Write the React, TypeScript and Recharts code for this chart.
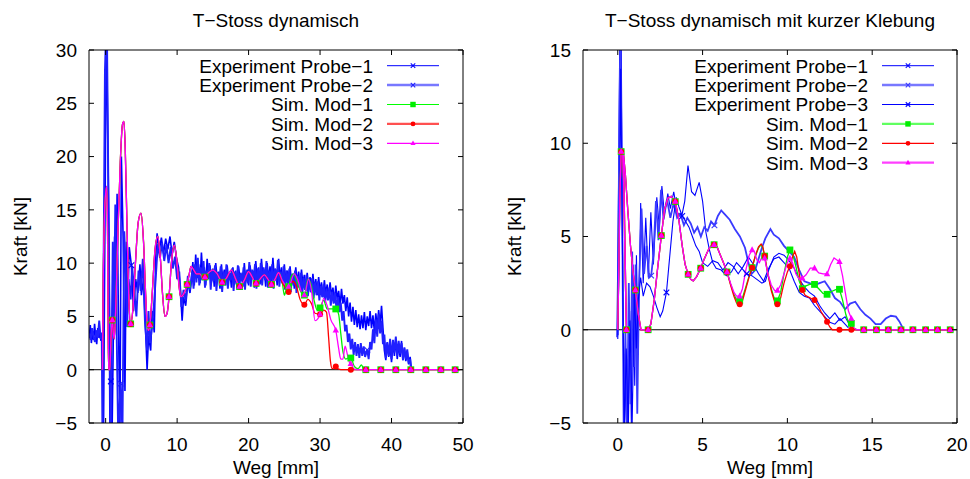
import { LineChart, Line, XAxis, YAxis, ReferenceLine } from 'recharts';

type Pt = [number, number];
type Shape = 'cross' | 'square' | 'circle' | 'triangle';

const FONT = '"Liberation Sans", Arial, Helvetica, sans-serif';
const FS = 19;

// ---------- left panel: T-Stoss dynamisch ----------
const leftXTicks = [0, 10, 20, 30, 40, 50];
const leftYTicks = [-5, 0, 5, 10, 15, 20, 25, 30];

const leftProbe1: Pt[] = [
  [-2.3, 3.0], [-2.15, 4.2], [-2.0, 2.5], [-1.85, 3.6], [-1.7, 2.8], [-1.55, 4.3], [-1.4, 3.1], [-1.25, 2.4],
  [-1.1, 3.9], [-0.95, 3.0], [-0.8, 3.5], [-0.65, 2.7], [-0.5, 3.4], [-0.42, 3.0], [-0.3, -6], [0.1, 33],
  [0.45, 13], [0.6, -6], [0.72, -1.1], [0.9, -6], [1.25, 12.5], [1.4, 5], [1.6, 16.5], [1.8, 4], [2.0, -6],
  [2.2, 20], [2.45, 12.2], [2.7, -2], [2.9, 12], [3.1, 6], [3.3, 11.5], [3.6, 9.8], [3.9, 5.5], [4.2, 8.5],
  [4.5, 7.2], [4.8, 9.9], [5.0, 7.0], [5.3, 8.5], [5.6, 3.5], [5.8, 0.0], [6.0, 3.2], [6.3, 1.8], [6.5, 5.5],
  [6.8, 3.5], [7.0, 10.5], [7.2, 12.8], [7.5, 11.2], [7.8, 12.4], [8.1, 10.9], [8.4, 12.3], [8.7, 11.3],
  [9.0, 12.5], [9.3, 10.8], [9.6, 12.0], [9.9, 10.5], [10.2, 9.6], [10.5, 7.0], [10.7, 4.6], [10.9, 6.8],
  [11.2, 6.0], [11.5, 8.2], [11.8, 7.2],
  [12.0, 8.4], [12.2, 10.1], [12.4, 7.9], [12.6, 10.8], [12.8, 8.6], [13.0, 9.9], [13.2, 8.1], [13.4, 11.0],
  [13.6, 8.8], [13.8, 9.6], [14.0, 7.9], [14.2, 10.4], [14.4, 8.5], [14.6, 9.8], [14.8, 8.2], [15.0, 9.5],
  [15.2, 7.8], [15.4, 10.0], [15.6, 8.6], [15.8, 9.2], [16.0, 7.6], [16.2, 9.9], [16.4, 8.3], [16.6, 9.4],
  [16.8, 7.9], [17.0, 9.8], [17.2, 8.4], [17.4, 9.1], [17.6, 7.7], [17.8, 9.6], [18.0, 8.2], [18.2, 9.3],
  [18.4, 7.5], [18.6, 9.7], [18.8, 8.4], [19.0, 9.0], [19.2, 7.8], [19.4, 10.0], [19.6, 8.3], [19.8, 9.4],
  [20.0, 7.9], [20.2, 9.8], [20.4, 8.6], [20.6, 9.2], [20.8, 7.7], [21.0, 10.2], [21.2, 8.5], [21.4, 9.6],
  [21.6, 8.0], [21.8, 10.4], [22.0, 8.7], [22.2, 9.3], [22.4, 7.8], [22.6, 10.0], [22.8, 8.4], [23.0, 9.7],
  [23.2, 8.1], [23.4, 10.5], [23.6, 8.6], [23.8, 9.4], [24.0, 7.9], [24.2, 10.4], [24.4, 8.5], [24.6, 9.6],
  [24.8, 8.0], [25.0, 9.9], [25.2, 8.3], [25.4, 9.3], [25.6, 7.8], [25.8, 9.7], [26.0, 8.2], [26.2, 9.0],
  [26.4, 7.6], [26.6, 9.6], [26.8, 8.1], [27.0, 9.2], [27.2, 7.5], [27.4, 9.4], [27.6, 8.0], [27.8, 8.9],
  [28.0, 7.4], [28.2, 9.1], [28.4, 7.8], [28.6, 8.7], [28.8, 7.2], [29.0, 9.0], [29.2, 7.5], [29.4, 8.5],
  [29.6, 7.0], [29.8, 8.7], [30.0, 7.3], [30.2, 8.2], [30.4, 6.8], [30.6, 8.4], [30.8, 7.1], [31.0, 8.0],
  [31.2, 6.6], [31.4, 8.2], [31.6, 6.9], [31.8, 7.7], [32.0, 6.3], [32.2, 7.9], [32.4, 6.6], [32.6, 7.4],
  [32.8, 6.0], [33.0, 7.6], [33.2, 6.2], [33.4, 7.0], [33.6, 5.5], [33.8, 6.8], [34.0, 5.0], [34.2, 6.3],
  [34.4, 4.5], [34.6, 5.9], [34.8, 4.2], [35.0, 5.6], [35.2, 4.0], [35.4, 5.2], [35.6, 3.8], [35.8, 5.1],
  [36.0, 3.9], [36.2, 5.4], [36.4, 3.7], [36.6, 5.0], [36.8, 4.1], [37.0, 5.5], [37.2, 3.9], [37.4, 5.1],
  [37.6, 3.6], [37.8, 5.3], [38.0, 4.0], [38.2, 5.6], [38.4, 4.2], [38.6, 6.0], [38.8, 3.9], [39.0, 1.8],
  [39.2, 0.9], [39.4, 2.5], [39.6, 1.2], [39.8, 2.2], [40.0, 0.7], [40.2, 2.6], [40.4, 1.3], [40.6, 2.9],
  [40.8, 1.0], [41.0, 2.4], [41.2, 1.2], [41.4, 2.7], [41.6, 0.9], [41.8, 2.0], [42.0, 0.8], [42.2, 1.7],
  [42.4, 0.5], [42.6, 1.2], [42.8, 0.0],
];
const leftProbe1Marks = [0.72, 3.6];

const leftProbe2: Pt[] = [
  [-2.3, 3.4], [-2.1, 2.8], [-1.9, 3.9], [-1.7, 3.1], [-1.5, 2.6], [-1.3, 3.7], [-1.1, 3.0], [-0.9, 4.6],
  [-0.7, 2.9], [-0.55, 3.5], [-0.45, -6], [-0.1, 28], [0.15, 34], [0.5, 8], [0.7, -6], [1.0, 12], [1.15, 4],
  [1.35, 15.5], [1.55, 3], [1.75, -6], [2.1, -1.3], [2.35, -6], [2.6, 13], [2.8, 9.7], [3.0, 4.0], [3.2, 8.5],
  [3.5, 6.6], [3.7, 9.7], [4.0, 7.5], [4.3, 5.0], [4.6, 9.3], [4.9, 7.4], [5.2, 10.4], [5.5, 4.5], [5.8, 1.8],
  [6.0, 5.5], [6.2, 2.5], [6.5, 4.0], [6.8, 6.5], [7.0, 8.5], [7.3, 11.8], [7.6, 10.5], [7.9, 11.9],
  [8.2, 10.2], [8.5, 11.7], [8.8, 10.0], [9.1, 11.5], [9.4, 9.5], [9.7, 10.6], [10.0, 8.5], [10.3, 9.2],
  [10.6, 5.9], [10.9, 7.5], [11.2, 6.5], [11.5, 8.8], [11.8, 7.5],
  [12.1, 9.2], [12.3, 7.6], [12.5, 9.9], [12.7, 8.2], [12.9, 10.5], [13.1, 7.9], [13.3, 9.6], [13.5, 8.4],
  [13.7, 10.2], [13.9, 7.7], [14.1, 9.3], [14.3, 8.6], [14.5, 10.0], [14.7, 7.5], [14.9, 9.4], [15.1, 8.3],
  [15.3, 9.8], [15.5, 7.4], [15.7, 9.1], [15.9, 8.5], [16.1, 9.7], [16.3, 7.3], [16.5, 9.2], [16.7, 8.1],
  [16.9, 9.9], [17.1, 7.6], [17.3, 9.0], [17.5, 8.4], [17.7, 9.5], [17.9, 7.4], [18.1, 9.2], [18.3, 8.0],
  [18.5, 9.8], [18.7, 7.6], [18.9, 9.1], [19.1, 8.3], [19.3, 9.6], [19.5, 7.5], [19.7, 9.3], [19.9, 8.1],
  [20.1, 10.1], [20.3, 7.8], [20.5, 9.4], [20.7, 8.5], [20.9, 9.9], [21.1, 7.6], [21.3, 9.5], [21.5, 8.2],
  [21.7, 10.0], [21.9, 7.9], [22.1, 9.6], [22.3, 8.4], [22.5, 10.2], [22.7, 7.7], [22.9, 9.3], [23.1, 8.2],
  [23.3, 9.9], [23.5, 7.6], [23.7, 9.5], [23.9, 8.3], [24.1, 10.3], [24.3, 7.8], [24.5, 9.2], [24.7, 8.1],
  [24.9, 9.7], [25.1, 7.5], [25.3, 9.3], [25.5, 8.0], [25.7, 9.5], [25.9, 7.3], [26.1, 9.0], [26.3, 7.9],
  [26.5, 9.3], [26.7, 7.2], [26.9, 8.8], [27.1, 7.7], [27.3, 9.1], [27.5, 7.0], [27.7, 8.6], [27.9, 7.5],
  [28.1, 8.9], [28.3, 6.9], [28.5, 8.4], [28.7, 7.3], [28.9, 8.6], [29.1, 6.7], [29.3, 8.2], [29.5, 7.0],
  [29.7, 8.3], [29.9, 6.5], [30.1, 7.9], [30.3, 6.8], [30.5, 8.0], [30.7, 6.3], [30.9, 7.6], [31.1, 6.5],
  [31.3, 7.7], [31.5, 6.0], [31.7, 7.3], [31.9, 6.2], [32.1, 7.2], [32.3, 5.6], [32.5, 6.8], [32.7, 5.4],
  [32.9, 6.3], [33.1, 4.6], [33.3, 5.5], [33.5, 3.6], [33.7, 4.2], [33.9, 2.6], [34.1, 3.4], [34.3, 1.9],
  [34.5, 2.9], [34.7, 1.4], [34.9, 2.6], [35.1, 1.3], [35.3, 2.4], [35.5, 1.1], [35.7, 2.5], [35.9, 1.3],
  [36.1, 2.2], [36.3, 1.2], [36.6, 1.85], [36.8, 1.0], [37.0, 2.6], [37.2, 1.9], [37.4, 3.8], [37.6, 2.5],
  [37.8, 4.7], [38.0, 3.1], [38.2, 5.2], [38.4, 3.4], [38.6, 4.6], [38.8, 2.4], [39.0, 3.3], [39.2, 1.1],
  [39.4, 2.6], [39.6, 1.3], [39.8, 2.9], [40.0, 1.0], [40.2, 2.8], [40.4, 1.6], [40.6, 3.1], [40.8, 1.3],
  [41.0, 2.7], [41.2, 1.5], [41.4, 2.5], [41.6, 0.9], [41.8, 2.1], [42.0, 1.0], [42.2, 1.9], [42.4, 0.6],
  [42.6, 1.0], [42.7, 0],
];
const leftProbe2Marks = [2.1, 36.6];

const leftSimShared: Pt[] = [
  [-0.45, 0], [-0.33, 8.7], [-0.12, 15.2], [0.15, 17.2], [0.27, 12.5], [0.36, 3], [0.42, 0], [0.58, 0],
  [0.76, 3.2], [0.93, 4.66], [1.08, 3.4], [1.2, 2.9], [1.4, 5.5], [1.7, 12.5], [2.05, 19.5], [2.35, 23],
  [2.56, 23.3], [2.75, 20.5], [3.0, 13], [3.25, 6.5], [3.5, 4.3], [3.8, 5.6], [4.15, 9.8], [4.55, 13.8],
  [4.94, 14.7], [5.3, 12], [5.6, 7], [5.85, 4.0], [6.0, 3.7], [6.2, 4.2], [6.5, 7], [6.9, 11.2], [7.28, 12.5],
  [7.65, 10.5], [7.95, 7.2], [8.3, 5.0], [8.6, 5.3], [8.87, 6.85], [9.2, 10], [9.6, 11.7], [9.95, 10.3],
  [10.25, 8], [10.5, 6.85], [10.9, 7.1], [11.4, 8.0], [11.7, 9.0], [11.95, 9.7], [12.3, 9.4], [12.7, 9.0],
  [13.2, 9.0], [13.6, 8.6], [13.9, 8.7], [14.4, 9.1], [15.0, 9.35], [15.6, 9.0], [16.3, 8.2], [16.9, 8.6],
  [17.6, 9.35], [18.2, 8.5], [18.75, 7.8], [19.4, 8.4], [20.0, 9.2], [20.5, 8.7], [21.05, 8.1], [21.6, 8.5],
  [22.2, 8.9], [22.7, 8.5], [23.2, 8.0], [23.7, 8.5], [24.2, 9.1],
];
const leftZeroTail: Pt[] = [[36.4, 0], [38.5, 0], [40.6, 0], [42.7, 0], [44.8, 0], [46.9, 0], [48.9, 0], [49.6, 0]];
const leftMod1Tail: Pt[] = [
  [24.7, 8.3], [25.0, 7.0], [25.3, 7.6], [25.6, 7.8], [26.0, 8.8], [26.3, 9.0], [26.9, 8.0], [27.4, 7.2],
  [27.8, 7.0], [28.3, 8.5], [28.7, 8.1], [29.2, 6.4], [29.6, 5.6], [30.0, 5.8], [30.5, 6.5], [31.0, 5.7],
  [31.6, 5.7], [32.2, 5.7], [32.6, 5.2], [32.9, 3.4], [33.2, 1.7], [33.6, 1.0], [34.0, 1.1], [34.3, 1.1],
  [34.8, 0.3], [35.3, 0.1], [35.8, 0.45], [36.1, 0.05],
];
const leftMod2Tail: Pt[] = [
  [24.7, 8.2], [25.2, 7.6], [25.6, 7.3], [26.2, 8.3], [26.7, 7.8], [27.2, 6.6], [27.8, 6.1], [28.3, 6.6],
  [28.8, 6.2], [29.3, 5.3], [30.0, 5.2], [30.5, 5.6], [30.9, 5.4], [31.2, 3.0], [31.45, 0.8], [31.7, 0.1],
  [31.95, 0.2], [32.2, 0.3], [32.6, 0.05], [33.2, 0], [34.3, 0],
];
const leftMod3Tail: Pt[] = [
  [24.7, 8.4], [25.2, 7.9], [25.6, 7.8], [26.4, 9.0], [26.9, 8.4], [27.4, 7.3], [27.8, 7.0], [28.4, 8.5],
  [28.8, 7.4], [29.3, 4.6], [29.7, 4.8], [30.0, 5.2], [30.5, 6.7], [31.0, 6.0], [31.5, 4.7], [32.2, 3.7],
  [32.6, 2.0], [32.9, 1.0], [33.2, 1.0], [33.5, 2.2], [33.8, 1.5], [34.1, 0.7], [34.3, 0.55], [34.8, 0.05],
  [35.5, 0],
];
const leftSimMarks = [0.93, 3.5, 6.2, 8.87, 11.4, 13.9, 16.3, 18.75, 21.05, 23.2, 25.6, 27.8, 30.0, 32.2, 34.3,
  36.4, 38.5, 40.6, 42.7, 44.8, 46.9, 48.9];

// ---------- right panel: T-Stoss dynamisch mit kurzer Klebung ----------
const rightXTicks = [0, 5, 10, 15, 20];
const rightYTicks = [-5, 0, 5, 10, 15];

const rightProbe1: Pt[] = [
  [-0.05, -0.4], [0.05, 8], [0.12, 16], [0.2, 16], [0.3, 2], [0.4, -5.5], [0.5, -2], [0.6, -5.5], [0.7, 1],
  [0.8, -5], [0.9, 3.5], [1.0, -3], [1.1, 4], [1.2, -1], [1.35, 6.8], [1.5, 2.5], [1.65, 6.0], [1.8, 2.8],
  [1.95, 6.3], [2.1, 3.5], [2.3, 7.1], [2.45, 5.5], [2.6, 7.7], [2.75, 6.2], [2.95, 7.3], [3.1, 6.5],
  [3.3, 7.4], [3.5, 6.3], [3.75, 6.0], [3.95, 6.9], [4.14, 8.8], [4.35, 7.4], [4.55, 7.2], [4.8, 7.9],
  [5.0, 6.9], [5.2, 5.2], [5.4, 4.3], [5.6, 3.6], [5.8, 3.3], [6.1, 3.2], [6.4, 2.9], [6.7, 3.1], [7.0, 3.6],
  [7.3, 3.3], [7.6, 3.0], [7.9, 2.9], [8.2, 2.7], [8.5, 2.5], [8.7, 2.6], [8.9, 3.2], [9.2, 3.9], [9.5, 4.1],
  [9.8, 4.0], [10.1, 3.7], [10.4, 3.3], [10.7, 2.7], [11.0, 2.3], [11.3, 2.0], [11.6, 1.8], [11.9, 1.3],
  [12.2, 0.9], [12.5, 0.6], [12.8, 0.9], [13.1, 0.5], [13.4, 0.7], [13.7, 0.2], [13.9, 0.0],
];
const rightProbe1Marks = [7.6];

const rightProbe2: Pt[] = [
  [0.0, -0.3], [0.08, 10], [0.15, 15.5], [0.25, 8], [0.35, -5.5], [0.45, 0], [0.55, -5.5], [0.65, 2.5],
  [0.75, -4], [0.85, 4.2], [0.95, -2], [1.05, 3.5], [1.15, -4.5], [1.25, 2.2], [1.4, 6.5], [1.55, 3.0],
  [1.7, 4.5], [1.85, 2.8], [1.97, 2.9], [2.1, 4.0], [2.25, 6.9], [2.4, 4.8], [2.55, 7.5], [2.7, 5.9],
  [2.9, 7.0], [3.1, 6.0], [3.3, 6.8], [3.5, 6.0], [3.7, 6.2], [3.9, 5.6], [4.1, 6.0], [4.3, 5.7], [4.5, 5.2],
  [4.7, 5.5], [4.9, 5.0], [5.1, 5.5], [5.3, 5.3], [5.5, 5.8], [5.7, 5.6], [5.9, 6.1], [6.1, 6.4], [6.3, 6.2],
  [6.6, 5.9], [6.9, 5.4], [7.2, 5.0], [7.5, 4.4], [7.7, 3.6], [7.9, 3.0], [8.1, 3.2], [8.3, 3.8], [8.5, 4.4],
  [8.7, 4.9], [9.0, 5.4], [9.2, 5.1], [9.5, 4.9], [9.8, 4.5], [10.1, 4.2], [10.4, 3.9], [10.7, 3.2],
  [11.0, 2.6], [11.3, 2.5], [11.6, 2.4], [11.9, 2.5], [12.2, 2.6], [12.5, 2.2], [12.8, 1.7], [13.1, 1.5],
  [13.4, 1.1], [13.7, 1.4], [14.0, 1.5], [14.3, 1.1], [14.6, 0.8], [14.9, 0.6], [15.2, 0.3], [15.5, 0.3],
  [15.8, 0.6], [16.1, 0.75], [16.4, 0.7], [16.6, 0.45], [16.8, 0.1],
];
const rightProbe2Marks = [1.97, 5.7];

const rightProbe3: Pt[] = [
  [0.0, -0.5], [0.1, 5], [0.17, 14], [0.28, 4], [0.38, -5.5], [0.5, -1], [0.62, -5.5], [0.72, 0.5],
  [0.85, -5], [0.98, 2], [1.1, -1], [1.2, 1.5], [1.35, 2.8], [1.5, 1.8], [1.7, 2.5], [1.9, 2.3], [2.1, 1.8],
  [2.3, 1.2], [2.5, 0.7], [2.65, 1.0], [2.87, 2.0], [3.05, 3.8], [3.25, 5.8], [3.45, 7.1], [3.6, 6.6],
  [3.8, 6.1], [4.0, 5.8], [4.2, 5.5], [4.4, 5.0], [4.6, 4.5], [4.8, 4.2], [5.0, 3.6], [5.3, 3.4], [5.6, 3.7],
  [5.9, 3.6], [6.2, 3.2], [6.5, 3.6], [6.8, 3.4], [7.1, 3.0], [7.4, 3.4], [7.7, 3.9], [8.0, 3.5], [8.3, 3.0],
  [8.6, 2.6], [8.9, 3.3], [9.2, 3.8], [9.5, 3.9], [9.8, 3.6], [10.1, 3.3], [10.4, 2.6], [10.7, 2.0],
  [11.0, 1.8], [11.3, 1.7], [11.6, 1.3], [11.9, 1.0], [12.2, 0.7], [12.5, 0.4], [12.8, 0.3], [13.1, 0.6],
  [13.4, 0.3], [13.6, 0.1],
];
const rightProbe3Marks = [2.87, 3.8];

const rightSimShared: Pt[] = [
  [0, 0], [0.06, 3.2], [0.12, 7], [0.2, 9.55], [0.28, 9.75], [0.36, 7.5], [0.43, 3.5], [0.51, 0], [0.33, 9.5],
  [0.45, 8.3], [0.6, 6.3], [0.75, 4.5], [0.9, 3.1], [1.04, 2.13], [1.2, 0.9], [1.37, 0], [1.6, 0], [1.79, 0],
  [1.95, 0.3], [2.15, 1.6], [2.35, 3.3], [2.57, 5.05], [2.75, 6.4], [2.95, 7.05], [3.15, 7.15], [3.39, 6.87],
  [3.6, 5.9], [3.8, 4.5], [3.97, 3.5], [4.15, 2.97], [4.3, 2.7], [4.45, 2.62], [4.65, 2.85], [4.89, 3.3],
  [5.1, 3.8], [5.35, 4.3], [5.55, 4.55], [5.68, 4.56], [5.85, 4.45], [6.05, 4.0], [6.25, 3.55], [6.44, 3.1],
];
const rightZeroTail: Pt[] = [[14.5, 0], [15.25, 0], [15.95, 0], [16.7, 0], [17.4, 0], [18.15, 0], [18.85, 0], [19.6, 0]];
const rightMod1Tail: Pt[] = [
  [6.65, 2.45], [6.85, 1.9], [7.0, 1.6], [7.19, 1.55], [7.35, 1.7], [7.55, 2.3], [7.75, 2.9], [7.92, 3.33],
  [8.1, 3.9], [8.3, 4.4], [8.45, 4.55], [8.55, 4.4], [8.66, 3.95], [8.85, 3.0], [9.05, 2.2], [9.25, 1.6],
  [9.41, 1.55], [9.6, 2.0], [9.8, 3.0], [10.0, 3.9], [10.15, 4.28], [10.3, 4.1], [10.5, 3.4], [10.7, 2.6],
  [10.88, 2.2], [11.1, 2.35], [11.35, 2.45], [11.6, 2.43], [11.85, 2.2], [12.1, 1.95], [12.34, 1.9],
  [12.6, 2.05], [12.85, 2.15], [13.07, 2.17], [13.25, 1.6], [13.45, 0.8], [13.6, 0.4], [13.77, 0.34],
  [13.9, 0.1], [14.1, 0],
];
const rightMod2Tail: Pt[] = [
  [6.65, 2.4], [6.85, 1.8], [7.0, 1.45], [7.19, 1.37], [7.35, 1.55], [7.55, 2.2], [7.75, 2.85], [7.92, 3.33],
  [8.1, 3.95], [8.3, 4.45], [8.45, 4.6], [8.55, 4.45], [8.66, 3.95], [8.85, 3.0], [9.05, 2.1], [9.25, 1.5],
  [9.41, 1.37], [9.6, 1.7], [9.8, 2.5], [10.0, 3.1], [10.15, 3.4], [10.3, 3.9], [10.43, 4.2], [10.55, 3.9],
  [10.7, 3.0], [10.88, 2.13], [11.05, 1.85], [11.25, 1.75], [11.45, 1.65], [11.6, 1.6], [11.8, 1.3],
  [12.0, 0.95], [12.2, 0.65], [12.34, 0.43], [12.5, 0.15], [12.65, 0], [13.07, 0], [13.77, 0],
];
const rightMod3Tail: Pt[] = [
  [6.65, 2.5], [6.85, 2.0], [7.0, 1.8], [7.19, 1.8], [7.35, 2.2], [7.55, 3.2], [7.75, 4.0], [7.92, 4.28],
  [8.05, 4.2], [8.2, 3.75], [8.35, 3.6], [8.5, 3.9], [8.66, 3.83], [8.85, 3.0], [9.05, 2.4], [9.25, 2.1],
  [9.41, 2.1], [9.6, 2.4], [9.8, 3.0], [10.0, 3.6], [10.15, 3.83], [10.3, 3.6], [10.5, 3.0], [10.7, 2.7],
  [10.88, 2.76], [11.1, 2.95], [11.35, 3.3], [11.6, 3.3], [11.85, 3.05], [12.1, 3.0], [12.34, 2.99],
  [12.55, 3.5], [12.75, 3.85], [12.9, 3.75], [13.07, 3.65], [13.25, 2.9], [13.45, 1.8], [13.6, 1.0],
  [13.77, 0.6], [13.9, 0.1], [14.1, 0],
];
const rightSimMarks = [0.2, 0.51, 1.04, 1.79, 2.57, 3.39, 4.15, 4.89, 5.68, 6.44, 7.19, 7.92, 8.66, 9.41, 10.15,
  10.88, 11.6, 12.34, 13.07, 13.77, 14.5, 15.25, 15.95, 16.7, 17.4, 18.15, 18.85, 19.6];

interface Series {
  name: string;
  pts: Pt[];
  color: string;
  width: number;
  shape: Shape;
  marks: number[];
  curve: 'linear' | 'monotone';
  legendColor: string;
  legendWidth: number;
}

const leftSeries: Series[] = [
  { name: 'Experiment Probe\u22121', pts: leftProbe1, color: '#0000ff', width: 1.6, shape: 'cross', marks: leftProbe1Marks, curve: 'linear', legendColor: '#0000ff', legendWidth: 1 },
  { name: 'Experiment Probe\u22122', pts: leftProbe2, color: '#2020ff', width: 1.9, shape: 'cross', marks: leftProbe2Marks, curve: 'linear', legendColor: '#7878ff', legendWidth: 2.5 },
  { name: 'Sim. Mod\u22121', pts: [...leftSimShared, ...leftMod1Tail, ...leftZeroTail], color: '#00ee00', width: 1.3, shape: 'square', marks: leftSimMarks, curve: 'monotone', legendColor: '#00ff00', legendWidth: 1.2 },
  { name: 'Sim. Mod\u22122', pts: [...leftSimShared, ...leftMod2Tail, ...leftZeroTail], color: '#ff0000', width: 1.3, shape: 'circle', marks: leftSimMarks, curve: 'monotone', legendColor: '#ff5050', legendWidth: 2.2 },
  { name: 'Sim. Mod\u22123', pts: [...leftSimShared, ...leftMod3Tail, ...leftZeroTail], color: '#ff00ff', width: 1.3, shape: 'triangle', marks: leftSimMarks, curve: 'monotone', legendColor: '#ff00ff', legendWidth: 1.2 },
];

const rightSeries: Series[] = [
  { name: 'Experiment Probe\u22121', pts: rightProbe1, color: '#0000ff', width: 1.1, shape: 'cross', marks: rightProbe1Marks, curve: 'linear', legendColor: '#0000ff', legendWidth: 1 },
  { name: 'Experiment Probe\u22122', pts: rightProbe2, color: '#3a3aff', width: 1.8, shape: 'cross', marks: rightProbe2Marks, curve: 'linear', legendColor: '#7878ff', legendWidth: 2.5 },
  { name: 'Experiment Probe\u22123', pts: rightProbe3, color: '#0000ff', width: 1.1, shape: 'cross', marks: rightProbe3Marks, curve: 'linear', legendColor: '#0000ff', legendWidth: 1 },
  { name: 'Sim. Mod\u22121', pts: [...rightSimShared, ...rightMod1Tail, ...rightZeroTail], color: '#00ee00', width: 1.3, shape: 'square', marks: rightSimMarks, curve: 'linear', legendColor: '#60ff60', legendWidth: 2.2 },
  { name: 'Sim. Mod\u22122', pts: [...rightSimShared, ...rightMod2Tail, ...rightZeroTail], color: '#ff0000', width: 1.3, shape: 'circle', marks: rightSimMarks, curve: 'linear', legendColor: '#ff0000', legendWidth: 1.2 },
  { name: 'Sim. Mod\u22123', pts: [...rightSimShared, ...rightMod3Tail, ...rightZeroTail], color: '#ff00ff', width: 1.3, shape: 'triangle', marks: rightSimMarks, curve: 'linear', legendColor: '#ff40ff', legendWidth: 2.2 },
];

function Marker({ shape, cx, cy, color, s = 1 }: { shape: Shape; cx: number; cy: number; color: string; s?: number }) {
  if (shape === 'cross') {
    const d = 2.8 * s;
    return (
      <g stroke={color} strokeWidth={1.1}>
        <line x1={cx - d} y1={cy - d} x2={cx + d} y2={cy + d} />
        <line x1={cx - d} y1={cy + d} x2={cx + d} y2={cy - d} />
      </g>
    );
  }
  if (shape === 'square') return <rect x={cx - 3.4 * s} y={cy - 3.4 * s} width={6.8 * s} height={6.8 * s} fill={color} />;
  if (shape === 'circle') return <circle cx={cx} cy={cy} r={3 * s} fill={color} />;
  return <path d={`M${cx},${cy - 3.6 * s}L${cx + 3.2 * s},${cy + 2.2 * s}L${cx - 3.2 * s},${cy + 2.2 * s}Z`} fill={color} />;
}

function makeDot(s: Series) {
  return (p: any) => {
    const key = `d-${p.index}`;
    if (p.cx == null || p.cy == null || !s.marks.includes(p.payload.x)) return <g key={key} />;
    return (
      <g key={key}>
        <Marker shape={s.shape} cx={p.cx} cy={p.cy} color={s.color} />
      </g>
    );
  };
}

const rows = (pts: Pt[]) => pts.map(([x, y]) => ({ x, y }));

interface PanelProps {
  title: string;
  series: Series[];
  xDomain: [number, number];
  yDomain: [number, number];
  xTicks: number[];
  yTicks: number[];
  marginLeft: number;
  marginRight: number;
  legendRight: number;
}

const TOP = 50;
const BOTTOM = 423;

function Panel({ title, series, xDomain, yDomain, xTicks, yTicks, marginLeft, marginRight, legendRight }: PanelProps) {
  const W = 485;
  const H = 479;
  const plotLeft = marginLeft + 60;
  const plotRight = W - marginRight - 5;
  const cx = (plotLeft + plotRight) / 2;

  // inward ticks like gnuplot, labels outside
  const bottomTick = (p: any) => (
    <g key={`b${p.index}`}>
      <line x1={p.x} x2={p.x} y1={BOTTOM} y2={BOTTOM - 5} stroke="#000" />
      <text x={p.x} y={BOTTOM + 28} textAnchor="middle" fill="#000" fontSize={FS} fontFamily={FONT}>{p.payload.value}</text>
    </g>
  );
  const topTick = (p: any) => (
    <line key={`t${p.index}`} x1={p.x} x2={p.x} y1={TOP} y2={TOP + 5} stroke="#000" />
  );
  const leftTick = (p: any) => (
    <g key={`l${p.index}`}>
      <line x1={plotLeft} x2={plotLeft + 5} y1={p.y} y2={p.y} stroke="#000" />
      <text x={plotLeft - 12} y={p.y} dy="0.36em" textAnchor="end" fill="#000" fontSize={FS} fontFamily={FONT}>
        {p.payload.value < 0 ? `\u2212${Math.abs(p.payload.value)}` : p.payload.value}
      </text>
    </g>
  );
  const rightTick = (p: any) => (
    <line key={`r${p.index}`} x1={plotRight} x2={plotRight - 5} y1={p.y} y2={p.y} stroke="#000" />
  );

  return (
    <div style={{ position: 'relative', width: W, height: H }}>
      <LineChart width={W} height={H} margin={{ top: 45, right: marginRight, bottom: 26, left: marginLeft }}>
        <XAxis xAxisId="b" dataKey="x" type="number" domain={xDomain} ticks={xTicks} allowDataOverflow interval={0}
          height={30} tickLine={false} stroke="#000" tick={bottomTick} />
        <XAxis xAxisId="t" orientation="top" dataKey="x" type="number" domain={xDomain} ticks={xTicks} allowDataOverflow
          interval={0} height={5} tickLine={false} stroke="#000" tick={topTick} />
        <YAxis yAxisId="l" type="number" domain={yDomain} ticks={yTicks} allowDataOverflow interval={0} width={60}
          tickLine={false} stroke="#000" tick={leftTick} />
        <YAxis yAxisId="r" orientation="right" type="number" domain={yDomain} ticks={yTicks} allowDataOverflow
          interval={0} width={5} tickLine={false} stroke="#000" tick={rightTick} />
        <ReferenceLine xAxisId="b" yAxisId="l" y={0} stroke="#000" strokeWidth={1} />
        {series.map((s) => (
          <Line key={s.name} xAxisId="b" yAxisId="l" data={rows(s.pts)} dataKey="y" name={s.name} type={s.curve}
            stroke={s.color} strokeWidth={s.width} dot={makeDot(s)} activeDot={false} isAnimationActive={false} />
        ))}
      </LineChart>
      <svg width={W} height={H} style={{ position: 'absolute', left: 0, top: 0 }} fontFamily={FONT} fontSize={FS}>
        <text x={cx} y={27} textAnchor="middle" fill="#000">{title}</text>
        <text x={cx} y={474} textAnchor="middle" fill="#000">Weg [mm]</text>
        <text transform={`translate(${plotLeft - 62},236.5) rotate(-90)`} textAnchor="middle" fill="#000">Kraft [kN]</text>
        {series.map((s, i) => {
          const y = 65.7 + i * 19.4;
          return (
            <g key={s.name}>
              <text x={legendRight} y={y} dy="0.36em" textAnchor="end" fill="#000">{s.name}</text>
              <line x1={legendRight + 14} x2={legendRight + 66} y1={y} y2={y} stroke={s.legendColor} strokeWidth={s.legendWidth} />
              <Marker shape={s.shape} cx={legendRight + 40} cy={y} color={s.color} s={0.8} />
            </g>
          );
        })}
      </svg>
    </div>
  );
}

export default function App() {
  return (
    <div style={{ display: 'flex', width: 970, height: 479, background: '#fff', overflow: 'hidden' }}>
      <style>{'body{margin:0}'}</style>
      <Panel title={'T\u2212Stoss dynamisch'} series={leftSeries} xDomain={[-2.33, 50]} yDomain={[-5, 30]}
        xTicks={leftXTicks} yTicks={leftYTicks} marginLeft={29} marginRight={17} legendRight={373} />
      <Panel title={'T\u2212Stoss dynamisch mit kurzer Klebung'} series={rightSeries} xDomain={[-2.05, 20]} yDomain={[-5, 15]}
        xTicks={rightXTicks} yTicks={rightYTicks} marginLeft={38} marginRight={8} legendRight={383} />
    </div>
  );
}
